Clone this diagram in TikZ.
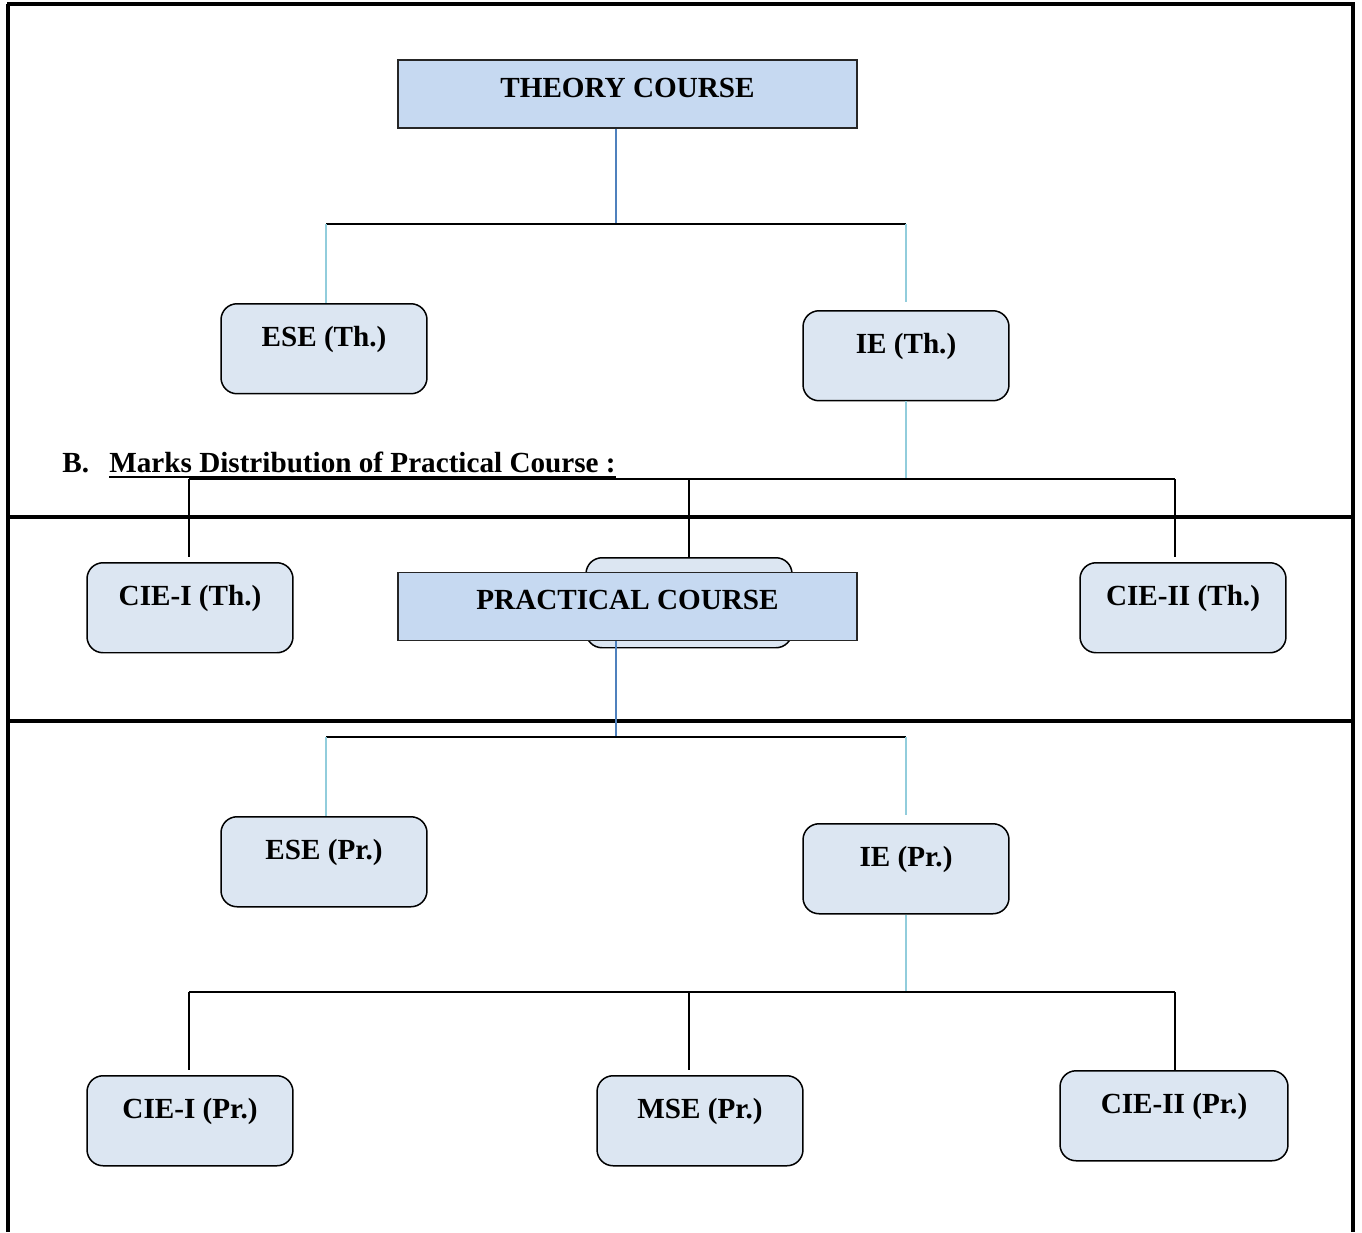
\documentclass[tikz,border=0pt]{standalone}
\usepackage{fontspec}
\setmainfont{Liberation Serif}
\usepackage{xcolor}

\definecolor{hdrblue}{HTML}{C6D9F1}
\definecolor{boxblue}{HTML}{DCE6F2}
\definecolor{linkblue}{HTML}{4F81BD}
\definecolor{paleblue}{HTML}{92CDDC}

\begin{document}
\begin{tikzpicture}[x=0.02cm, y=-0.02cm,
    font=\fontsize{16.6}{19}\selectfont\bfseries,
    course/.style={draw=black!85, fill=hdrblue, line width=0.03cm,
        minimum width=9.18cm, inner xsep=0, inner ysep=0.1cm,
        text height=0.64cm, text depth=0.52cm},
    part/.style={draw, fill=boxblue, rounded corners=0.32cm, line width=0.03cm,
        minimum width=4.12cm, inner ysep=0.1cm,
        text height=0.76cm, text depth=0.84cm, anchor=north},
    frameline/.style={line width=0.07cm},
    kline/.style={line width=0.04cm, black},
    bline/.style={line width=0.04cm, linkblue},
    pline/.style={line width=0.04cm, paleblue}]

    \useasboundingbox (0,0) rectangle (1362,1232);

    % Frame
    \draw[frameline] (7,4) -- (1353,4) -- (1353,1232);
    \draw[frameline] (8,4) -- (8,1232);
    \draw[frameline] (8,517) -- (1353,517);
    \draw[frameline] (8,721) -- (1353,721);

    % Theory course
    \node[course] (theory) at (627.5,94) {THEORY COURSE};
    \node[part] (eseth) at (324,303) {ESE (Th.)};
    \node[part] (ieth) at (906,310) {IE (Th.)};
    \node[part] (cieith) at (190,562) {CIE-I (Th.)};
    \node[part] (mseth) at (689,557) {};
    \node[part] (cieiith) at (1183,562) {CIE-II (Th.)};

    % Heading B
    \node[anchor=base west, inner sep=0] (secb) at (62,472) {B.};
    \node[anchor=base west, inner sep=0] (secbtitle) at (109,472)
        {Marks Distribution of Practical Course :};
    \draw[line width=0.04cm] ([yshift=-0.1cm]secbtitle.base west)
        -- ([yshift=-0.1cm]secbtitle.base east);

    % Practical course
    \node[course] (practical) at (627.5,606.5) {PRACTICAL COURSE};
    \node[part] (esepr) at (324,816) {ESE (Pr.)};
    \node[part] (iepr) at (906,823) {IE (Pr.)};
    \node[part] (cieipr) at (190,1075) {CIE-I (Pr.)};
    \node[part] (msepr) at (700,1075) {MSE (Pr.)};
    \node[part, minimum width=4.56cm] (cieiipr) at (1174,1070) {CIE-II (Pr.)};

    % Junctions
    \coordinate (thj) at (616,224);
    \coordinate (thl) at (326,224);
    \coordinate (thr) at (906,224);
    \coordinate (tbj) at (906,479);
    \coordinate (tba) at (189,479);
    \coordinate (tbb) at (689,479);
    \coordinate (tbc) at (1175,479);
    \coordinate (prj) at (616,737);
    \coordinate (prl) at (326,737);
    \coordinate (prr) at (906,737);
    \coordinate (pbj) at (906,992);
    \coordinate (pba) at (189,992);
    \coordinate (pbb) at (689,992);
    \coordinate (pbc) at (1175,992);

    % Lines, theory
    \draw[bline] (theory.south -| thj) -- (thj);
    \draw[kline] (thl) -- (thr);
    \draw[pline] (thl) -- (thl |- eseth.north);
    \draw[pline] (thr) -- ([yshift=0.16cm]ieth.north);
    \draw[pline] (ieth) -- (tbj);
    \draw[kline] (tba) -- (tbc);
    \draw[kline] (tba) -- ([yshift=0.1cm]tba |- cieith.north);
    \draw[kline] (tbb) -- (tbb |- mseth.north);
    \draw[kline] (tbc) -- ([yshift=0.1cm]tbc |- cieiith.north);

    % Lines, practical
    \draw[bline] (practical.south -| prj) -- (prj);
    \draw[kline] (prl) -- (prr);
    \draw[pline] (prl) -- (prl |- esepr.north);
    \draw[pline] (prr) -- ([yshift=0.16cm]iepr.north);
    \draw[pline] (iepr) -- (pbj);
    \draw[kline] (pba) -- (pbc);
    \draw[kline] (pba) -- ([yshift=0.1cm]pba |- cieipr.north);
    \draw[kline] (pbb) -- ([yshift=0.1cm]pbb |- msepr.north);
    \draw[kline] (pbc) -- (pbc |- cieiipr.north);

\end{tikzpicture}
\end{document}
